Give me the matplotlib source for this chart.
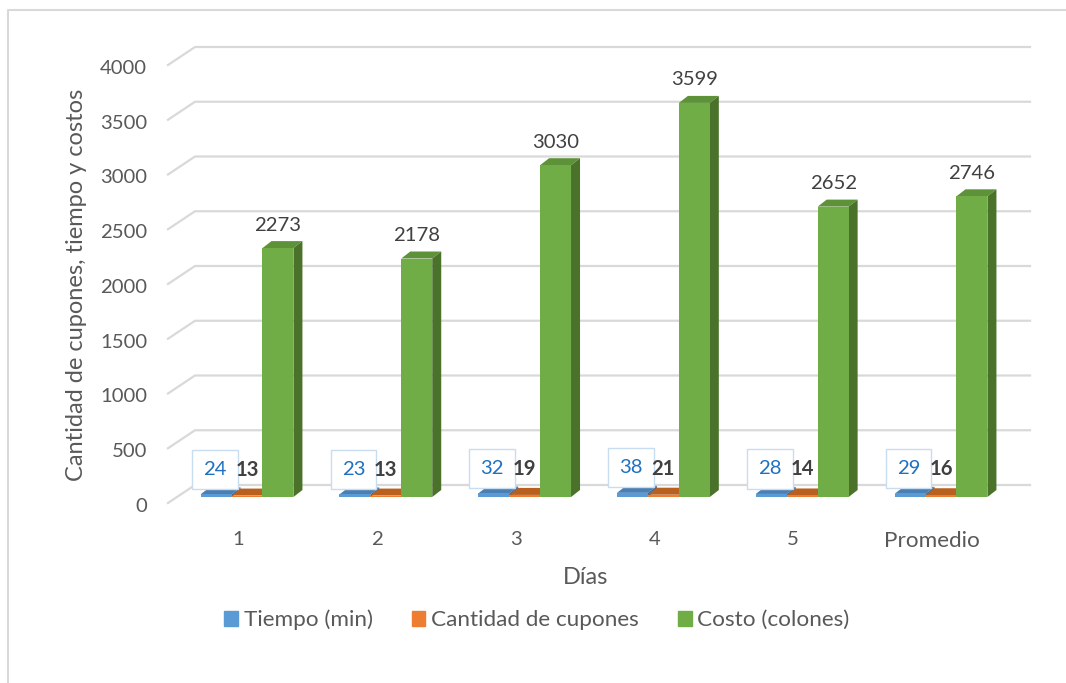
import matplotlib.pyplot as plt
from matplotlib.patches import Polygon, Patch
from matplotlib.transforms import ScaledTranslation, offset_copy

plt.rcParams['font.family'] = ['Lato', 'DejaVu Sans']

dias = ['1', '2', '3', '4', '5', 'Promedio']
tiempo = [24, 23, 32, 38, 28, 29]
cupones = [13, 13, 19, 21, 14, 16]
costo = [2273, 2178, 3030, 3599, 2652, 2746]
series = ['Tiempo (min)', 'Cantidad de cupones', 'Costo (colones)']
yticks = [0, 500, 1000, 1500, 2000, 2500, 3000, 3500, 4000]

frente = ['#5B9BD5', '#ED7D31', '#70AD47']
techo = ['#4A7FB3', '#B9601F', '#5E9239']
lado = ['#3F6C98', '#A0531C', '#4A722B']
gris = '#595959'
rejilla = '#D9D9D9'
fs_num, fs_txt, fs_tit = 14.6, 16.2, 17

W, H = 1066, 683
fig = plt.figure(figsize=(W / 100, H / 100), dpi=100)

# pixel scale of the front (bar) plane
k = 0.1095          # px per unit on y
px_cat = 138.8      # px per category
x0_px, y0_px = 247, 497
ylo, yhi = -120, 4180
left_px, right_px = 168, 1030
xlo = (left_px - x0_px) / px_cat
xhi = (right_px - x0_px) / px_cat
bot_px = y0_px - ylo * k
top_px = y0_px - yhi * k
ax = fig.add_axes([left_px / W, (H - bot_px) / H,
                   (right_px - left_px) / W, (bot_px - top_px) / H])
ax.set_xlim(xlo, xhi)
ax.set_ylim(ylo, yhi)
for s in ax.spines.values():
    s.set_visible(False)

# depth offsets (front edge of floor, back wall, bar depth)
dxf, dyf = 9 / px_cat, 6 / k
dxb, dyb = 18 / px_cat, 12 / k
dxd, dyd = 9 / px_cat, 7 / k
x_wall = (177 - x0_px) / px_cat

for v in yticks:
    ax.plot([x_wall - dxf, x_wall + dxb, xhi], [v - dyf, v + dyb, v + dyb],
            color=rejilla, lw=1.6, clip_on=False, zorder=1,
            solid_joinstyle='miter')

ancho = 0.223
datos = [tiempo, cupones, costo]
for i in range(len(dias)):
    for j, vals in enumerate(datos):
        xc = i + (j - 1) * ancho
        xl, xr = xc - ancho / 2, xc + ancho / 2
        v = vals[i]
        ax.add_patch(Polygon([(xl, v), (xr, v), (xr + dxd, v + dyd), (xl + dxd, v + dyd)],
                             closed=True, fc=techo[j], ec='none', zorder=3, clip_on=False))
        ax.add_patch(Polygon([(xr, 0), (xr + dxd, dyd), (xr + dxd, v + dyd), (xr, v)],
                             closed=True, fc=lado[j], ec='none', zorder=3, clip_on=False))
        ax.bar(xc, v, width=ancho, color=frente[j], zorder=4, clip_on=False)

px = lambda p: offset_copy(ax.transData, fig=fig, x=0, y=p, units='dots')
for i in range(len(dias)):
    xb = i - ancho
    ax.text(xb - 0.01, tiempo[i], str(tiempo[i]), transform=px(25), ha='center', va='center',
            fontsize=fs_num, color='#1F70C1', zorder=6,
            bbox=dict(boxstyle='square,pad=0.55', fc='white', ec='#C9DDF0', lw=1))
    ax.text(i, cupones[i], str(cupones[i]), transform=px(26), ha='center', va='center',
            fontsize=fs_num, color='#404040', fontweight='bold', zorder=7)
    ax.text(i + ancho, costo[i], str(costo[i]), transform=px(23), ha='center', va='center',
            fontsize=fs_num, color='#404040', zorder=6)

ax.set_yticks(yticks)
ax.set_yticklabels([str(v) for v in yticks], fontsize=fs_num, color=gris)
ax.tick_params(axis='y', length=0, pad=8.6)
ax.set_xticks(range(len(dias)))
ax.set_xticklabels(dias, fontsize=fs_num, color=gris)
ax.tick_params(axis='x', length=0, pad=9)
for lbl in ax.get_xticklabels():
    if not lbl.get_text().isdigit():
        lbl.set_fontsize(fs_txt)
shift = ScaledTranslation(-9 / 100, -8 / 100, fig.dpi_scale_trans)
for lbl in ax.get_yticklabels() + ax.get_xticklabels():
    lbl.set_transform(lbl.get_transform() + shift)

fig.text(586 / W, 1 - 578 / H, 'Días', ha='center', va='center', fontsize=fs_tit, color=gris)
fig.text(77 / W, 1 - 285 / H, 'Cantidad de cupones, tiempo y costos', rotation=90,
         ha='center', va='center', fontsize=fs_tit, color=gris)

handles = [Patch(color=c, label=s) for c, s in zip(frente, series)]
fig.legend(handles=handles, loc='center', bbox_to_anchor=(537 / W, 1 - 620 / H), ncol=3,
           frameon=False, fontsize=fs_txt, labelcolor=gris, handlelength=0.6, handleheight=0.6,
           handletextpad=0.25, columnspacing=1.75)

# chart area border
fig.add_artist(plt.Line2D([8 / W, 8 / W, 1.0], [0, 1 - 10 / H, 1 - 10 / H],
                          transform=fig.transFigure, color=rejilla, lw=1.5))

fig.savefig('out.png', dpi=100)
